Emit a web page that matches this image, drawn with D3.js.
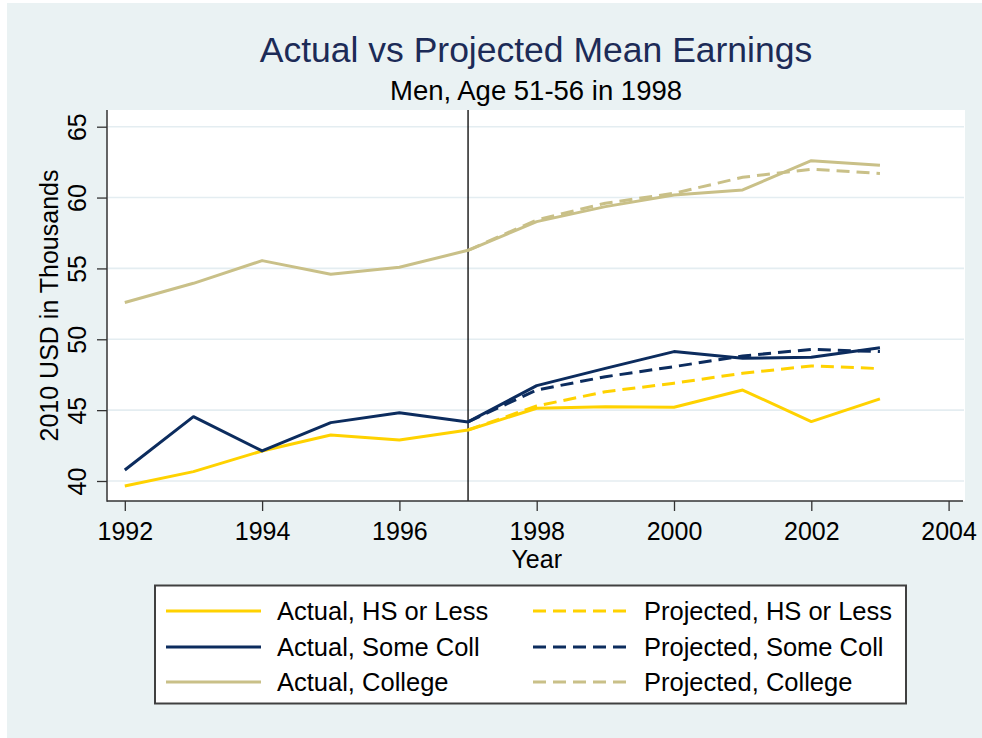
<!DOCTYPE html>
<html lang="en">
<head>
<meta charset="UTF-8">
<title>Actual vs Projected Mean Earnings</title>
<style>
  html, body { margin: 0; background: #fff; }
  svg { display: block; }
  text { font-family: "Liberation Sans", Arial, sans-serif; fill: #000; }
  .grid line { stroke: #e4edf1; stroke-width: 1.6px; }
  .series { fill: none; stroke-width: 3px; stroke-linejoin: round; }
  .dashed { stroke-dasharray: 13,7; }
</style>
</head>
<body>
<svg id="chart" width="982" height="738" viewBox="0 0 982 738"></svg>
<script src="https://d3js.org/d3.v7.min.js"></script>
<script>

// ---- data ----
const years = [1992, 1993, 1994, 1995, 1996, 1997, 1998, 1999, 2000, 2001, 2002, 2003];
const actualHS  = [39.65, 40.66, 42.12, 43.25, 42.89, 43.60, 45.13, 45.24, 45.20, 46.42, 44.19, 45.79];
const actualSC  = [40.78, 44.54, 42.12, 44.12, 44.82, 44.17, 46.73, 47.95, 49.13, 48.66, 48.73, 49.41];
const actualCol = [52.60, 53.95, 55.55, 54.59, 55.08, 56.28, 58.30, 59.36, 60.18, 60.54, 62.60, 62.28];

const projYears = [1997, 1998, 1999, 2000, 2001, 2002, 2003];
const projHS  = [43.60, 45.29, 46.30, 46.90, 47.60, 48.12, 47.93];
const projSC  = [44.17, 46.42, 47.36, 48.07, 48.82, 49.29, 49.13];
const projCol = [56.28, 58.42, 59.60, 60.30, 61.43, 62.00, 61.70];

const xTicks = [1992, 1994, 1996, 1998, 2000, 2002, 2004];
const yTicks = [40, 45, 50, 55, 60, 65];
const cutYear = 1997;

const titleText = "Actual vs Projected Mean Earnings";
const subtitleText = "Men, Age 51-56 in 1998";
const xTitle = "Year";
const yTitle = "2010 USD in Thousands";

const legendLabels = [
  "Actual, HS or Less", "Projected, HS or Less",
  "Actual, Some Coll", "Projected, Some Coll",
  "Actual, College", "Projected, College"
];

const colors = { hs: "#ffd200", sc: "#0c2c5e", col: "#c9c088" };

// ---- layout ----
const svg = d3.select("#chart");
const plot = { left: 107, right: 965, top: 110, bottom: 501 };

// background
svg.append("rect")
    .attr("x", 7).attr("y", 3)
    .attr("width", 975).attr("height", 735)
    .attr("fill", "#eaf2f3");

svg.append("rect")
    .attr("x", plot.left).attr("y", plot.top)
    .attr("width", plot.right - plot.left)
    .attr("height", plot.bottom - plot.top)
    .attr("fill", "#fff");

const x = d3.scaleLinear().domain([1992, 2004]).range([124.8, 948.6]);
const y = d3.scaleLinear().domain([40, 65]).range([481, 126.7]);

// gridlines
svg.append("g")
    .attr("class", "grid")
  .selectAll("line")
  .data(yTicks)
  .join("line")
    .attr("x1", plot.left + 1)
    .attr("x2", plot.right - 1)
    .attr("y1", d => y(d))
    .attr("y2", d => y(d));

// vertical line at the projection start
svg.append("line")
    .attr("x1", x(cutYear)).attr("x2", x(cutYear))
    .attr("y1", plot.top).attr("y2", plot.bottom)
    .attr("stroke", "#000")
    .attr("stroke-width", 1.3);

// series
const line = d3.line()
    .x(d => x(d[0]))
    .y(d => y(d[1]));

const series = [
  { yrs: years, vals: actualHS, color: colors.hs, dashed: false },
  { yrs: years, vals: actualSC, color: colors.sc, dashed: false },
  { yrs: years, vals: actualCol, color: colors.col, dashed: false },
  { yrs: projYears, vals: projHS, color: colors.hs, dashed: true },
  { yrs: projYears, vals: projSC, color: colors.sc, dashed: true },
  { yrs: projYears, vals: projCol, color: colors.col, dashed: true }
];

svg.append("g")
  .selectAll("path")
  .data(series)
  .join("path")
    .attr("class", d => "series" + (d.dashed ? " dashed" : ""))
    .attr("stroke", d => d.color)
    .attr("d", d => line(d.yrs.map((yr, i) => [yr, d.vals[i]])));

// axes
const yAxis = svg.append("g")
    .attr("transform", "translate(" + plot.left + ",0)")
    .call(d3.axisLeft(y).tickValues(yTicks).tickSize(10).tickPadding(11));
yAxis.select(".domain").remove();
yAxis.selectAll(".tick line").attr("stroke", "#333").attr("stroke-width", 1.3);
yAxis.selectAll(".tick text")
    .attr("font-size", 25)
    .attr("font-family", "Liberation Sans, Arial, sans-serif")
    .attr("fill", "#000")
    .attr("x", null).attr("dy", null)
    .attr("text-anchor", "middle")
    .attr("transform", "translate(-21,0) rotate(-90)");

const xAxis = svg.append("g")
    .attr("transform", "translate(0," + plot.bottom + ")")
    .call(d3.axisBottom(x).tickValues(xTicks).tickSize(10).tickFormat(d3.format("d")));
xAxis.select(".domain").remove();
xAxis.selectAll(".tick line").attr("stroke", "#333").attr("stroke-width", 1.3);
xAxis.selectAll(".tick text")
    .attr("font-size", 25)
    .attr("font-family", "Liberation Sans, Arial, sans-serif")
    .attr("fill", "#000")
    .attr("dy", null)
    .attr("y", 39);

// axis lines
svg.append("line")
    .attr("x1", plot.left).attr("x2", plot.left)
    .attr("y1", plot.top).attr("y2", plot.bottom + 0.7)
    .attr("stroke", "#333").attr("stroke-width", 1.5);
svg.append("line")
    .attr("x1", plot.left).attr("x2", plot.right - 2)
    .attr("y1", plot.bottom).attr("y2", plot.bottom)
    .attr("stroke", "#333").attr("stroke-width", 1.5);

// titles
const midX = (plot.left + plot.right) / 2;
svg.append("text")
    .attr("x", midX).attr("y", 62)
    .attr("text-anchor", "middle")
    .attr("font-size", 35.5)
    .style("fill", "#1c2b57")
    .text(titleText);

svg.append("text")
    .attr("x", midX).attr("y", 100)
    .attr("text-anchor", "middle")
    .attr("font-size", 27.5)
    .text(subtitleText);

svg.append("text")
    .attr("x", x(1998)).attr("y", 568)
    .attr("text-anchor", "middle")
    .attr("font-size", 25)
    .text(xTitle);

svg.append("text")
    .attr("transform", "translate(58," + ((plot.top + plot.bottom) / 2) + ") rotate(-90)")
    .attr("text-anchor", "middle")
    .attr("font-size", 25)
    .text(yTitle);

// legend
const legend = svg.append("g");
legend.append("rect")
    .attr("x", 155).attr("y", 585.5)
    .attr("width", 751).attr("height", 118)
    .attr("fill", "#fff")
    .attr("stroke", "#404040")
    .attr("stroke-width", 2);

const legendItems = legendLabels.map((label, i) => ({
  label: label,
  col: i % 2,
  row: Math.floor(i / 2),
  color: [colors.hs, colors.sc, colors.col][Math.floor(i / 2)],
  dashed: i % 2 === 1
}));

const colX = [166, 533];
const rowY = [611, 647, 682];

const li = legend.selectAll("g.item")
  .data(legendItems)
  .join("g")
    .attr("class", "item")
    .attr("transform", d => "translate(" + colX[d.col] + "," + rowY[d.row] + ")");

li.append("line")
    .attr("class", d => "series" + (d.dashed ? " dashed" : ""))
    .attr("x1", 0).attr("x2", 95)
    .attr("y1", 0).attr("y2", 0)
    .attr("stroke", d => d.color);

li.append("text")
    .attr("x", 111)
    .attr("y", 9)
    .attr("font-size", 25.5)
    .text(d => d.label);

</script>
</body>
</html>
